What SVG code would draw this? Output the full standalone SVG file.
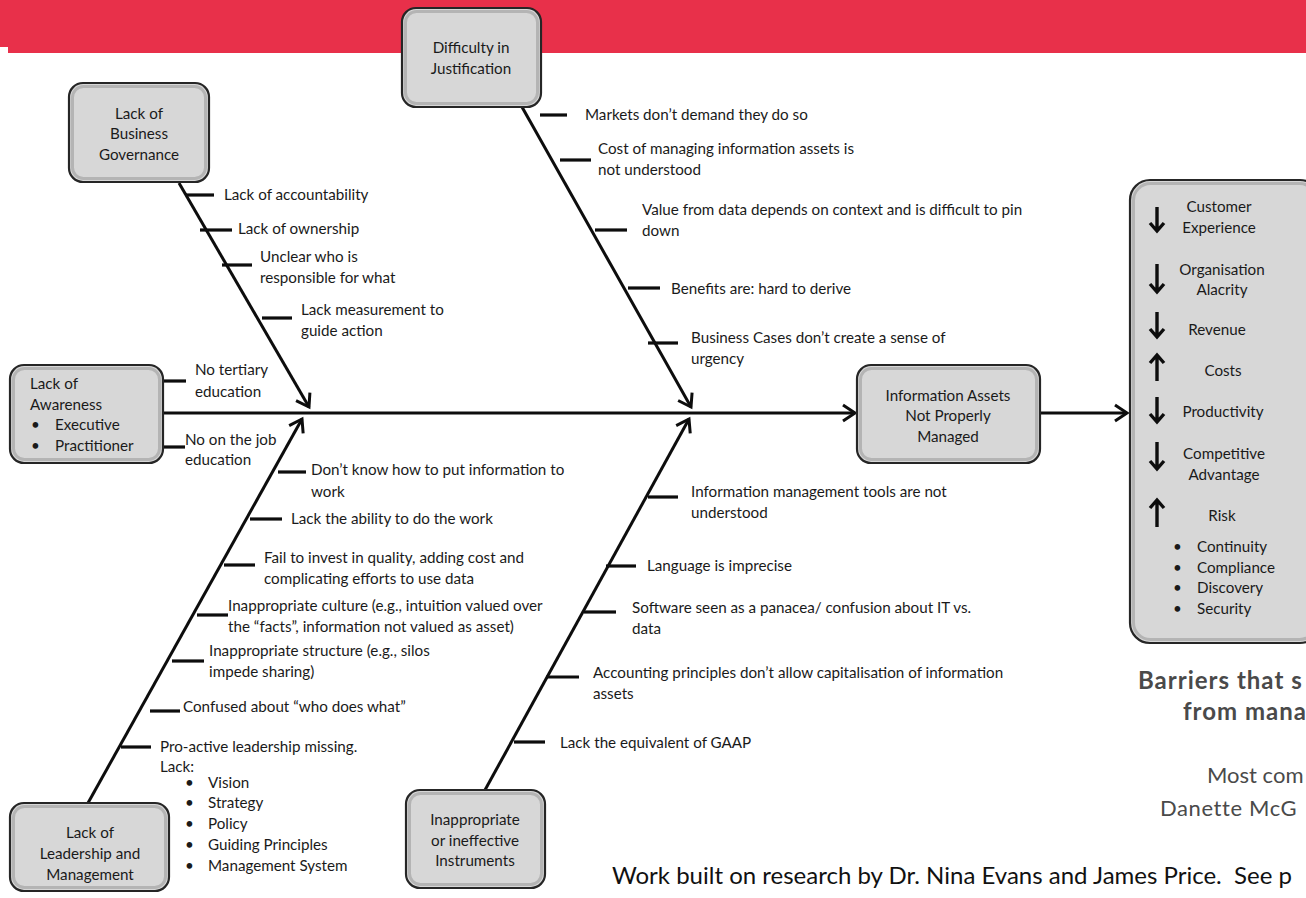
<svg xmlns="http://www.w3.org/2000/svg" width="1306" height="898" viewBox="0 0 1306 898">
<style>
.t{font-family:Lato,"Liberation Sans",sans-serif;font-size:15.2px;fill:#1a1a1a}
.c{text-anchor:middle}
.box{fill:#d7d7d7;stroke:#262626;stroke-width:2.2}
.bev{fill:none;stroke:#b4b4b4;stroke-width:3}
.ln{stroke:#0d0d0d;stroke-width:3;fill:none}
.tk{stroke:#0d0d0d;stroke-width:3.2}
.ar{stroke:#0d0d0d;stroke-width:3.4;fill:none;stroke-linecap:butt}
.big{font-family:Lato,"Liberation Sans",sans-serif;font-size:22px;fill:#4a4a4a}
</style>
<defs>
<marker id="ah" markerUnits="userSpaceOnUse" markerWidth="20" markerHeight="20" refX="14" refY="9" orient="auto" viewBox="0 0 20 18">
<path d="M2,1 L14,9 L2,17" fill="none" stroke="#0d0d0d" stroke-width="3"/>
</marker>
</defs>
<rect width="1306" height="898" fill="#fff"/>
<path d="M0,0 H1306 V53 H8 V47 H0 Z" fill="#e8304a"/>

<g id="connectors">
<line class="ln" x1="163" y1="413" x2="855" y2="413" marker-end="url(#ah)"/>
<line class="ln" x1="1040" y1="413" x2="1127" y2="413" marker-end="url(#ah)"/>
<line class="ln" x1="179" y1="183" x2="309" y2="407" marker-end="url(#ah)"/>
<line class="ln" x1="522" y1="107" x2="691" y2="407" marker-end="url(#ah)"/>
<line class="ln" x1="88" y1="803" x2="302" y2="419" marker-end="url(#ah)"/>
<line class="ln" x1="485" y1="790" x2="689" y2="419" marker-end="url(#ah)"/>
<g>
<line class="tk" x1="186" y1="195" x2="214" y2="195"/>
<line class="tk" x1="200" y1="230" x2="232" y2="230"/>
<line class="tk" x1="222" y1="265" x2="252" y2="265"/>
<line class="tk" x1="262" y1="318" x2="292" y2="318"/>
<line class="tk" x1="155" y1="381" x2="186" y2="381"/>
<line class="tk" x1="155" y1="447" x2="185" y2="447"/>
<line class="tk" x1="278" y1="472" x2="306" y2="472"/>
<line class="tk" x1="250" y1="519" x2="282" y2="519"/>
<line class="tk" x1="224" y1="565" x2="255" y2="565"/>
<line class="tk" x1="197" y1="615" x2="228" y2="615"/>
<line class="tk" x1="172" y1="661" x2="204" y2="661"/>
<line class="tk" x1="150" y1="711" x2="180" y2="711"/>
<line class="tk" x1="121" y1="747" x2="151" y2="747"/>
<line class="tk" x1="540" y1="115" x2="567" y2="115"/>
<line class="tk" x1="560" y1="160" x2="591" y2="160"/>
<line class="tk" x1="595" y1="230" x2="627" y2="230"/>
<line class="tk" x1="628" y1="288" x2="660" y2="288"/>
<line class="tk" x1="648" y1="343" x2="678" y2="343"/>
<line class="tk" x1="648" y1="497" x2="678" y2="497"/>
<line class="tk" x1="606" y1="566" x2="636" y2="566"/>
<line class="tk" x1="584" y1="612" x2="616" y2="612"/>
<line class="tk" x1="546" y1="677" x2="579" y2="677"/>
<line class="tk" x1="514" y1="742" x2="545" y2="742"/>
</g>
</g>

<g id="labels">
<text class="t" x="224" y="200">Lack of accountability</text>
<text class="t" x="238" y="234">Lack of ownership</text>
<text class="t" x="260" y="262">Unclear who is</text>
<text class="t" x="260" y="283">responsible for what</text>
<text class="t" x="301" y="315">Lack measurement to</text>
<text class="t" x="301" y="336">guide action</text>
<text class="t" x="195" y="375">No tertiary</text>
<text class="t" x="195" y="397">education</text>
<text class="t" x="185" y="445">No on the job</text>
<text class="t" x="185" y="465">education</text>
<text class="t" x="311" y="475">Don’t know how to put information to</text>
<text class="t" x="311" y="497">work</text>
<text class="t" x="291" y="524">Lack the ability to do the work</text>
<text class="t" x="264" y="563">Fail to invest in quality, adding cost and</text>
<text class="t" x="264" y="584">complicating efforts to use data</text>
<text class="t" x="228" y="611">Inappropriate culture (e.g., intuition valued over</text>
<text class="t" x="228" y="632">the “facts”, information not valued as asset)</text>
<text class="t" x="209" y="656">Inappropriate structure (e.g., silos</text>
<text class="t" x="209" y="677">impede sharing)</text>
<text class="t" x="183" y="712">Confused about “who does what”</text>
<text class="t" x="160" y="752">Pro-active leadership missing.</text>
<text class="t" x="160" y="772">Lack:</text>
<text class="t" x="185" y="788">•</text><text class="t" x="208" y="788">Vision</text>
<text class="t" x="185" y="808">•</text><text class="t" x="208" y="808">Strategy</text>
<text class="t" x="185" y="829">•</text><text class="t" x="208" y="829">Policy</text>
<text class="t" x="185" y="850">•</text><text class="t" x="208" y="850">Guiding Principles</text>
<text class="t" x="185" y="871">•</text><text class="t" x="208" y="871">Management System</text>
<text class="t" x="585" y="120">Markets don’t demand they do so</text>
<text class="t" x="598" y="154">Cost of managing information assets is</text>
<text class="t" x="598" y="175">not understood</text>
<text class="t" x="642" y="215">Value from data depends on context and is difficult to pin</text>
<text class="t" x="642" y="236">down</text>
<text class="t" x="671" y="294">Benefits are: hard to derive</text>
<text class="t" x="691" y="343">Business Cases don’t create a sense of</text>
<text class="t" x="691" y="364">urgency</text>
<text class="t" x="691" y="497">Information management tools are not</text>
<text class="t" x="691" y="518">understood</text>
<text class="t" x="647" y="571">Language is imprecise</text>
<text class="t" x="632" y="613">Software seen as a panacea/ confusion about IT vs.</text>
<text class="t" x="632" y="634">data</text>
<text class="t" x="593" y="678">Accounting principles don’t allow capitalisation of information</text>
<text class="t" x="593" y="699">assets</text>
<text class="t" x="560" y="748">Lack the equivalent of GAAP</text>
</g>

<g id="node-justification">
<rect class="box" x="402" y="8" width="139" height="99" rx="14"/>
<rect class="bev" x="405.5" y="11.5" width="132" height="92" rx="11"/>
<text class="t c" x="471" y="53">Difficulty in</text>
<text class="t c" x="471" y="74">Justification</text>
</g>
<g id="node-governance">
<rect class="box" x="69" y="83" width="140" height="99" rx="14"/>
<rect class="bev" x="72.5" y="86.5" width="133" height="92" rx="11"/>
<text class="t c" x="139" y="119">Lack of</text>
<text class="t c" x="139" y="139">Business</text>
<text class="t c" x="139" y="160">Governance</text>
</g>
<g id="node-awareness">
<rect class="box" x="10" y="365" width="153" height="98" rx="14"/>
<rect class="bev" x="13.5" y="368.5" width="146" height="91" rx="11"/>
<text class="t" x="30" y="389">Lack of</text>
<text class="t" x="30" y="410">Awareness</text>
<text class="t" x="31" y="430">•</text><text class="t" x="55" y="430">Executive</text>
<text class="t" x="31" y="451">•</text><text class="t" x="55" y="451">Practitioner</text>
</g>
<g id="node-effect">
<rect class="box" x="857" y="365" width="183" height="98" rx="14"/>
<rect class="bev" x="860.5" y="368.5" width="176" height="91" rx="11"/>
<text class="t c" x="948" y="401">Information Assets</text>
<text class="t c" x="948" y="421">Not Properly</text>
<text class="t c" x="948" y="442">Managed</text>
</g>
<g id="node-leadership">
<rect class="box" x="10" y="803" width="159" height="88" rx="14"/>
<rect class="bev" x="13.5" y="806.5" width="152" height="81" rx="11"/>
<text class="t c" x="90" y="838">Lack of</text>
<text class="t c" x="90" y="859">Leadership and</text>
<text class="t c" x="90" y="880">Management</text>
</g>
<g id="node-instruments">
<rect class="box" x="406" y="790" width="139" height="98" rx="14"/>
<rect class="bev" x="409.5" y="793.5" width="132" height="91" rx="11"/>
<text class="t c" x="475" y="825">Inappropriate</text>
<text class="t c" x="475" y="846">or ineffective</text>
<text class="t c" x="475" y="866">Instruments</text>
</g>
<g id="node-impacts">
<rect class="box" x="1130" y="180" width="190" height="463" rx="20"/>
<rect class="bev" x="1133.5" y="183.5" width="183" height="456" rx="17"/>
<g class="ar">
<path d="M1157,207 V231 M1150,223 L1157,231 L1164,223"/>
<path d="M1157,264 V292 M1150,284 L1157,292 L1164,284"/>
<path d="M1157,312 V337 M1150,329 L1157,337 L1164,329"/>
<path d="M1157,381 V355 M1150,363 L1157,355 L1164,363"/>
<path d="M1157,397 V422 M1150,414 L1157,422 L1164,414"/>
<path d="M1157,442 V469 M1150,461 L1157,469 L1164,461"/>
<path d="M1157,527 V500 M1150,508 L1157,500 L1164,508"/>
</g>
<text class="t c" x="1219" y="212">Customer</text>
<text class="t c" x="1219" y="233">Experience</text>
<text class="t c" x="1222" y="275">Organisation</text>
<text class="t c" x="1222" y="295">Alacrity</text>
<text class="t c" x="1217" y="335">Revenue</text>
<text class="t c" x="1223" y="376">Costs</text>
<text class="t c" x="1223" y="417">Productivity</text>
<text class="t c" x="1224" y="459">Competitive</text>
<text class="t c" x="1224" y="480">Advantage</text>
<text class="t c" x="1222" y="521">Risk</text>
<text class="t" x="1173" y="552">•</text><text class="t" x="1197" y="552">Continuity</text>
<text class="t" x="1173" y="573">•</text><text class="t" x="1197" y="573">Compliance</text>
<text class="t" x="1173" y="593">•</text><text class="t" x="1197" y="593">Discovery</text>
<text class="t" x="1173" y="614">•</text><text class="t" x="1197" y="614">Security</text>
</g>

<g id="captions">
<text class="big" x="1138" y="689" style="font-weight:bold;font-size:24px;letter-spacing:1px">Barriers that s</text>
<text class="big" x="1183" y="720" style="font-weight:bold;font-size:24px;letter-spacing:1px">from mana</text>
<text class="big" x="1207" y="783">Most com</text>
<text class="big" x="1160" y="816" style="letter-spacing:0.6px">Danette McG</text>
<text x="612" y="884" xml:space="preserve" style="font-family:Lato,'Liberation Sans',sans-serif;font-size:24px;fill:#111">Work built on research by Dr. Nina Evans and James Price.  See p</text>
</g>
</svg>
